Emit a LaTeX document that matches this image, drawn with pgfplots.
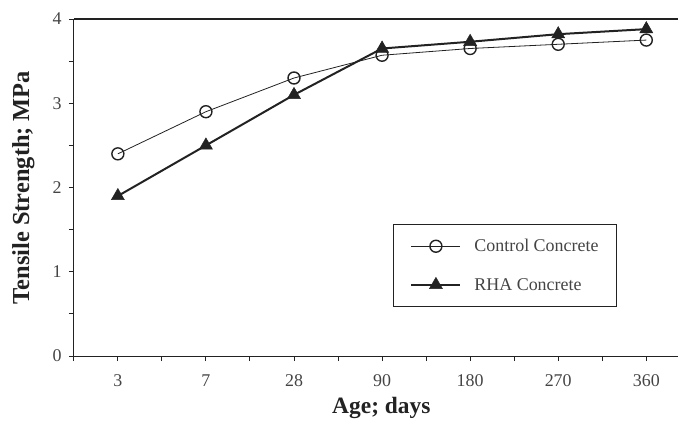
\documentclass[border=0pt]{standalone}
\usepackage{fontspec}
\setmainfont{Liberation Serif}
\usepackage{pgfplots}
\pgfplotsset{compat=1.18}

\definecolor{ink}{HTML}{222222}
\definecolor{ticktext}{HTML}{444444}

\pgfplotstableread{
x ctrl rha
0 2.40 1.90
1 2.90 2.50
2 3.30 3.10
3 3.57 3.65
4 3.65 3.73
5 3.70 3.82
6 3.75 3.88
}\strength

\begin{document}
\begin{tikzpicture}
\begin{axis}[
    scale only axis,
    width=604bp, height=337bp,
    xmin=-0.5, xmax=6.36,
    ymin=0, ymax=4,
    axis x line=box,
    axis y line=left,
    y axis line style={-},
    axis line style={ink, line width=1.1bp},
    xtick={0,...,6},
    xticklabels={3,7,28,90,180,270,360},
    minor xtick={-0.5,0.5,1.5,2.5,3.5,4.5,5.5},
    ytick={0,1,2,3,4},
    minor ytick={0.5,1.5,2.5,3.5},
    xtick pos=bottom, ytick pos=left,
    tick align=outside,
    major tick length=5bp, minor tick length=5bp,
    tick style={ink, line width=1bp},
    /pgf/number format/assume math mode=true,
    ticklabel style={font=\fontsize{18}{20}\selectfont, text=ticktext, inner sep=0pt},
    xticklabel style={yshift=-13bp},
    yticklabel style={xshift=-7bp},
    xlabel={Age; days},
    ylabel={Tensile Strength; MPa},
    every axis x label/.style={at={(axis description cs:0.509,0)}, yshift=-41bp, anchor=north, inner sep=0pt, font=\fontsize{23.5}{26}\selectfont\bfseries, text=ink},
    every axis y label/.style={at={(axis description cs:-0.0835,0.5)}, rotate=90, anchor=center, inner sep=0pt, font=\fontsize{24.5}{27}\selectfont\bfseries, text=ink},
    legend cell align=left,
    legend style={at={(319bp,49bp)}, anchor=south west, draw=ink, line width=1bp,
        inner xsep=17bp, inner ysep=14bp, row sep=23bp, column sep=12bp,
        font=\fontsize{18}{20}\selectfont, text=ticktext,
        nodes={inner sep=1bp}},
    legend image code/.code={\draw[mark repeat=2, mark phase=2, #1] plot coordinates {(0bp,0bp) (24.5bp,0bp) (49bp,0bp)};},
]
\addplot[ink, line width=0.8bp, mark=o, mark size=6bp, mark options={line width=1.4bp, fill=white}] table[x=x, y=ctrl] {\strength};
\addplot[ink, line width=2bp, mark=triangle*, mark size=7.5bp, mark options={line width=0.5bp}] table[x=x, y=rha] {\strength};
\legend{Control Concrete, RHA Concrete}
\end{axis}
\pgfresetboundingbox
\path[use as bounding box] (-73.8bp,-65bp) rectangle (604bp,356bp);
\end{tikzpicture}
\end{document}
